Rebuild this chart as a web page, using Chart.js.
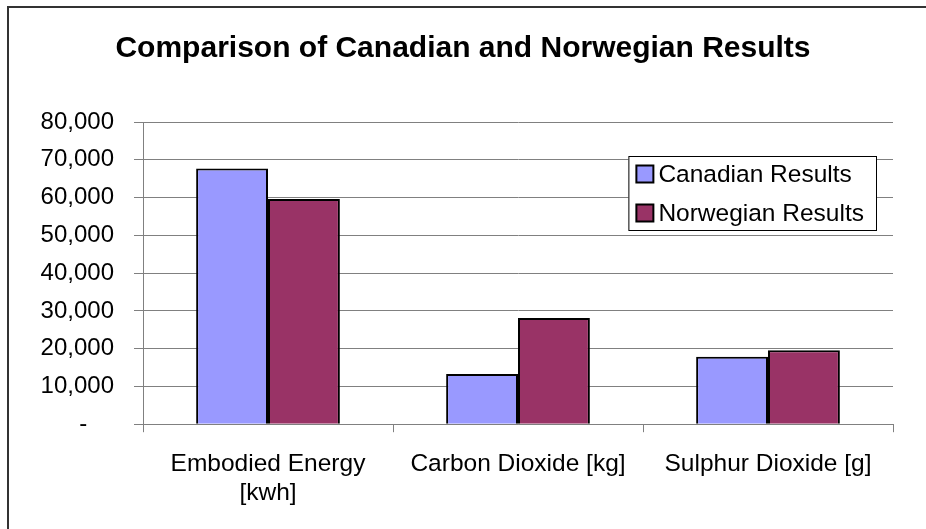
<!DOCTYPE html>
<html>
<head>
<meta charset="utf-8">
<script src="https://cdn.jsdelivr.net/npm/chart.js@4.4.0/dist/chart.umd.min.js"></script>
<style>
  html, body { margin: 0; padding: 0; background: #fff; }
  #wrap { width: 926px; height: 529px; position: relative; }
</style>
</head>
<body>
<div id="wrap"><canvas id="c" width="926" height="529"></canvas></div>
<script>
const categories = [["Embodied Energy", "[kwh]"], "Carbon Dioxide [kg]", "Sulphur Dioxide [g]"];
const seriesNames = ["Canadian Results", "Norwegian Results"];
const canadianValues = [67700, 13300, 17850];
const norwegianValues = [59600, 28100, 19550];
const yTickMin = 0, yTickMax = 80000, yTickStep = 10000;

const FONT = '"Liberation Sans", Arial, sans-serif';
const colors = ["#9999FF", "#993366"];

const frame = {
  id: 'frame',
  beforeDraw(chart) {
    const ctx = chart.ctx;
    ctx.save();
    ctx.fillStyle = '#fff';
    ctx.fillRect(0, 0, chart.width, chart.height);
    ctx.strokeStyle = '#333';
    ctx.lineWidth = 2;
    ctx.strokeRect(8, 7, chart.width + 20, chart.height + 20);
    ctx.restore();
  }
};

const boxLegend = {
  id: 'boxLegend',
  afterDraw(chart) {
    const ctx = chart.ctx;
    const ca = chart.chartArea;
    ctx.save();
    ctx.font = '24.5px ' + FONT;
    const texts = chart.data.datasets.map(d => d.label);
    const tw = Math.max(...texts.map(t => ctx.measureText(t).width));
    const padL = 8, sq = 17, gap = 5, padR = 12;
    const w = padL + sq + gap + tw + padR;
    const h = 74;
    const right = ca.right - 17;
    const left = right - w;
    const top = ca.top + 34;
    ctx.fillStyle = '#fff';
    ctx.fillRect(left, top, w, h);
    ctx.strokeStyle = '#000';
    ctx.lineWidth = 1;
    ctx.strokeRect(left + 0.5, top + 0.5, w, h);
    chart.data.datasets.forEach((d, i) => {
      const cy = top + 18 + i * 39;
      ctx.fillStyle = d.backgroundColor;
      ctx.fillRect(left + padL, cy - sq / 2, sq, sq);
      ctx.strokeStyle = '#000';
      ctx.lineWidth = 2;
      ctx.strokeRect(left + padL, cy - sq / 2, sq, sq);
      ctx.fillStyle = '#000';
      ctx.textBaseline = 'middle';
      ctx.textAlign = 'left';
      ctx.fillText(d.label, left + padL + sq + gap, cy + 1);
    });
    ctx.restore();
  }
};

new Chart(document.getElementById('c'), {
  type: 'bar',
  data: {
    labels: categories,
    datasets: [
      { label: seriesNames[0], data: canadianValues, backgroundColor: colors[0], borderColor: '#000', borderWidth: 2 },
      { label: seriesNames[1], data: norwegianValues, backgroundColor: colors[1], borderColor: '#000', borderWidth: 2 }
    ]
  },
  options: {
    responsive: false,
    animation: false,
    devicePixelRatio: 1,
    layout: { padding: { left: 33, right: 33, top: 0, bottom: 4 } },
    datasets: { bar: { categoryPercentage: 0.575, barPercentage: 1.0 } },
    plugins: {
      legend: { display: false },
      tooltip: { enabled: false },
      title: {
        display: true,
        text: 'Comparison of Canadian and Norwegian Results',
        color: '#000',
        font: { family: FONT, size: 30, weight: 'bold' },
        padding: { top: 31, bottom: 55 }
      }
    },
    scales: {
      x: {
        grid: { drawOnChartArea: false, drawTicks: true, tickLength: 8, color: '#808080', offset: true },
        border: { color: '#808080', width: 1 },
        ticks: { color: '#000', font: { family: FONT, size: 24.5 }, padding: 17, maxRotation: 0, autoSkip: false }
      },
      y: {
        min: yTickMin, max: yTickMax,
        afterFit: s => { s.width = 110; },
        grid: { color: '#808080', tickLength: 9 },
        border: { color: '#808080', width: 1 },
        ticks: {
          stepSize: yTickStep,
          color: '#000',
          font: { family: FONT, size: 24 },
          padding: 20,
          callback: v => v === 0 ? '-    ' : v.toLocaleString('en-US')
        }
      }
    }
  },
  plugins: [frame, boxLegend]
});
</script>
</body>
</html>
